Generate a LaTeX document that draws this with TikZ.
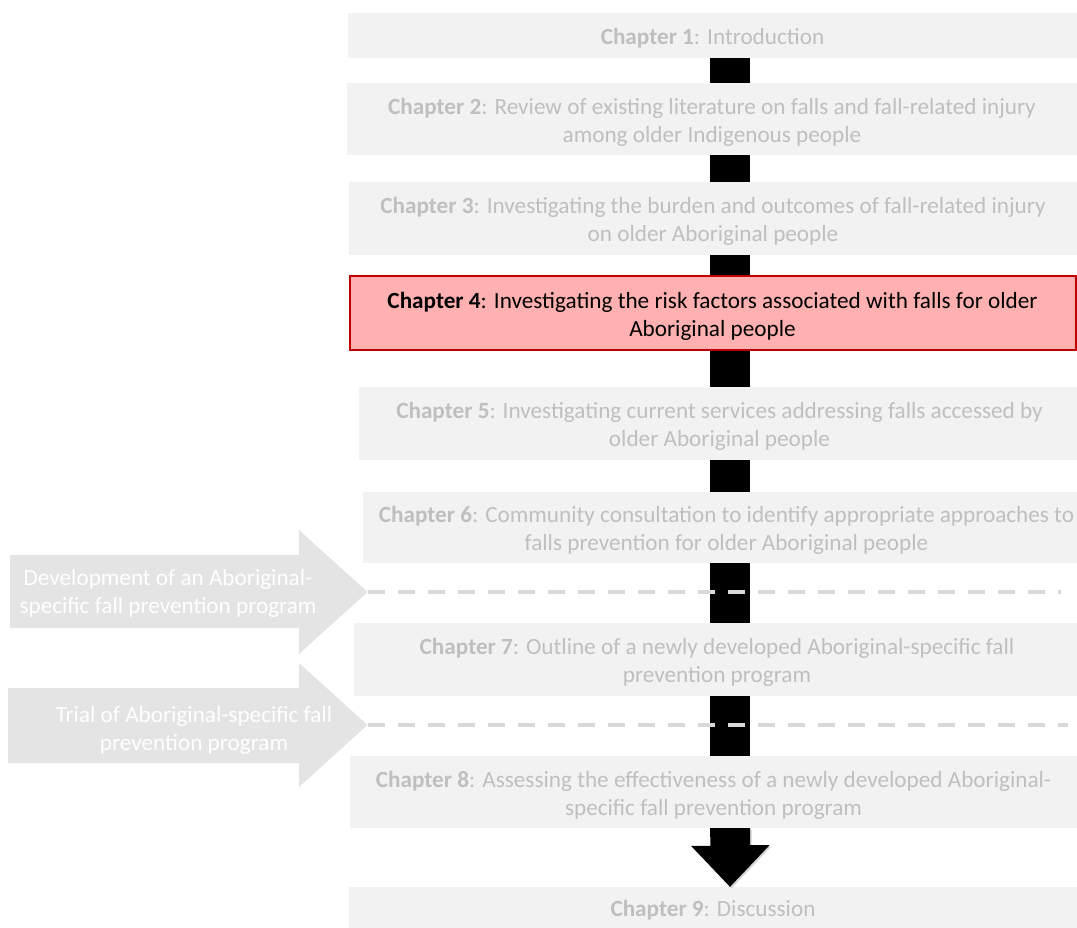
\documentclass[tikz,border=0pt]{standalone}
\usepackage{fontspec}
\setmainfont{Carlito}
\usetikzlibrary{shadows}
\definecolor{boxfill}{HTML}{F2F2F2}
\definecolor{boxtext}{HTML}{BFBFBF}
\definecolor{hlfill}{HTML}{FFB1B1}
\definecolor{hledge}{HTML}{C00000}
\definecolor{sidefill}{HTML}{E4E4E4}
\definecolor{dashgray}{HTML}{D9D9D9}
\begin{document}
\begin{tikzpicture}[x=1pt,y=-1pt,
  chapbox/.style={fill=boxfill, text=boxtext, inner sep=0pt, align=center,
    font=\fontsize{23.2}{28}\selectfont},
  oneline/.style={text height=22.5pt},
  twoline/.style={text height=50pt},
  hlbox/.style={chapbox, fill=hlfill, draw=hledge, line width=2pt, text=black},
  spinebar/.style={black, line width=40pt},
  sideshape/.style={fill=sidefill},
  sidetext/.style={text=white, align=center, inner sep=0pt,
    font=\fontsize{23.2}{28}\selectfont},
  divider/.style={dashgray, line width=4pt, dash pattern=on 17pt off 13pt}]
\useasboundingbox (0,0) rectangle (1077,928);
\begin{scope}
\clip (0,0) rectangle (1077,928);

% x position of the vertical flow line
\coordinate (spine) at (730,0);

% chapter boxes
\node[chapbox, oneline, minimum width=729pt, minimum height=45pt] (b1) at (712.5,35.5)
  {\textbf{Chapter 1}: Introduction};
\node[chapbox, twoline, minimum width=730pt, minimum height=72pt] (b2) at (712,119)
  {\textbf{Chapter 2}: Review of existing literature on falls and fall-related injury\\among older Indigenous people};
\node[chapbox, twoline, minimum width=728pt, minimum height=73pt] (b3) at (713,218.5)
  {\textbf{Chapter 3}: Investigating the burden and outcomes of fall-related injury\\on older Aboriginal people};
\node[hlbox, twoline, minimum width=726pt, minimum height=74pt] (b4) at (712.5,313)
  {\textbf{Chapter 4}: Investigating the risk factors associated with falls for older\\Aboriginal people};
\node[chapbox, twoline, minimum width=721pt, minimum height=73pt] (b5) at (719.5,423.5)
  {\textbf{Chapter 5}: Investigating current services addressing falls accessed by\\older Aboriginal people};
\node[chapbox, twoline, minimum width=727pt, minimum height=71pt] (b6) at (726.5,527.5)
  {\textbf{Chapter 6}: Community consultation to identify appropriate approaches to\\falls prevention for older Aboriginal people};
\node[chapbox, twoline, minimum width=726pt, minimum height=73pt] (b7) at (717,659.5)
  {\textbf{Chapter 7}: Outline of a newly developed Aboriginal-specific fall\\prevention program};
\node[chapbox, twoline, minimum width=727pt, minimum height=72pt] (b8) at (713.5,792)
  {\textbf{Chapter 8}: Assessing the effectiveness of a newly developed Aboriginal-\\specific fall prevention program};
\node[chapbox, oneline, minimum width=728pt, minimum height=41pt] (b9) at (713,907.5)
  {\textbf{Chapter 9}: Discussion};

% vertical connectors between chapters
\draw[spinebar] (b1.south -| spine) -- (b2.north -| spine);
\draw[spinebar] (b2.south -| spine) -- (b3.north -| spine);
\draw[spinebar] (b3.south -| spine) -- (b4.north -| spine);
\draw[spinebar] (b4.south -| spine) -- (b5.north -| spine);
\draw[spinebar] (b5.south -| spine) -- (b6.north -| spine);
\draw[spinebar] (b6.south -| spine) -- (b7.north -| spine);
\draw[spinebar] (b7.south -| spine) -- (b8.north -| spine);

% final block arrow into the discussion
\fill[black, drop shadow={shadow xshift=1.5pt, shadow yshift=-1.5pt, opacity=0.35}]
  (b8.south -| spine) ++(-20,0) -- ++(40,0) -- ++(0,17) -- ++(19.5,0)
  -- (b9.north -| spine) -- ++(-39,-41) -- ++(19.5,0) -- cycle;

% phase arrows on the left
\coordinate (a1tip) at (367.5,592);
\fill[sideshape] (10,555) -- (299,555) -- (299,530) -- (a1tip) -- (299,654)
  -- (299,628) -- (10,628) -- cycle;
\node[sidetext] (a1txt) at (168,593)
  {Development of an Aboriginal-\\specific fall prevention program};

\coordinate (a2tip) at (367.5,725);
\fill[sideshape] (8,688) -- (299,688) -- (299,663) -- (a2tip) -- (299,787)
  -- (299,763) -- (8,763) -- cycle;
\node[sidetext] (a2txt) at (194,730)
  {Trial of Aboriginal-specific fall\\prevention program};

% phase dividers
\coordinate (d1end) at (1061,592);
\coordinate (d2end) at (1068,725);
\draw[divider] (a1tip) -- (d1end);
\draw[divider] (a2tip) -- (d2end);
\end{scope}
\end{tikzpicture}
\end{document}
